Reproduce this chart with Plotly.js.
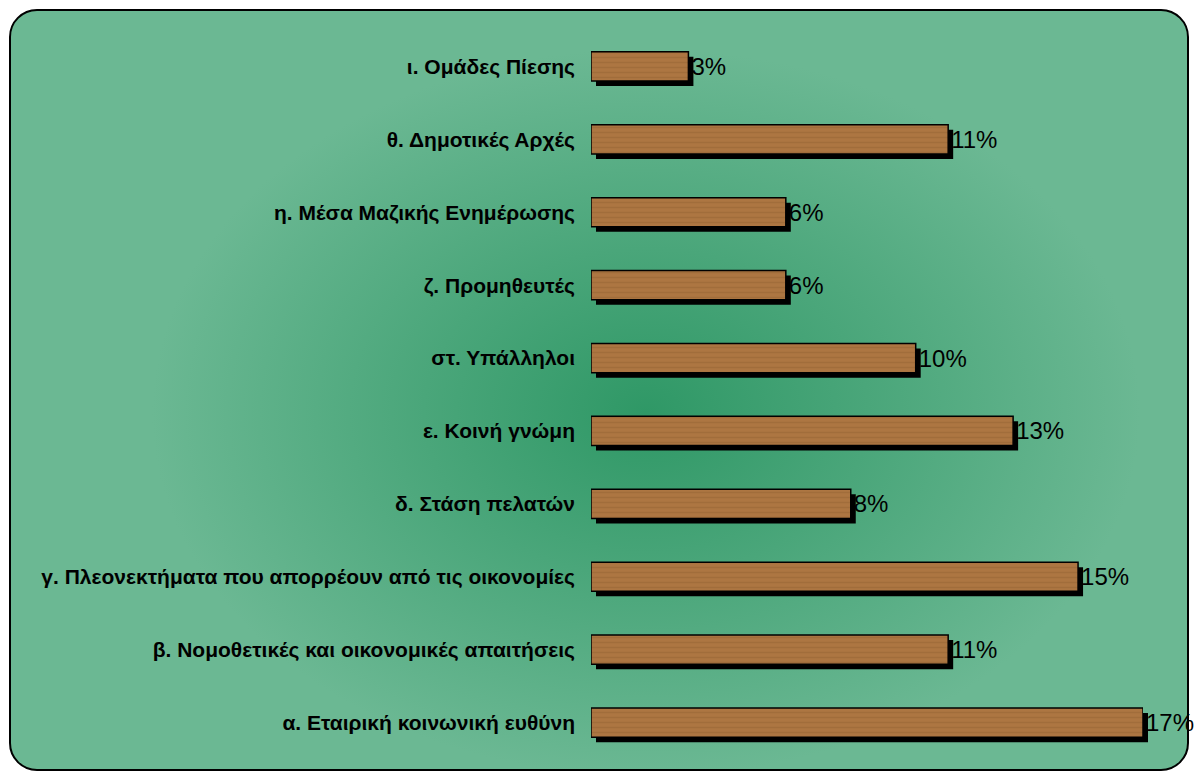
<!DOCTYPE html>
<html>
<head>
<meta charset="utf-8">
<script src="https://cdn.plot.ly/plotly-3.0.1.min.js"></script>
<style>
  html, body { margin: 0; padding: 0; background: #ffffff; }
  #frame {
    position: absolute; left: 9px; top: 9px; width: 1176px; height: 758px;
    border: 2px solid #000; border-radius: 28px;
    background: radial-gradient(ellipse 42% 48% at 54% 53%, #2f9866 0%, #4aa67a 45%, #6bb893 100%);
  }
  #chart { position: absolute; left: 0; top: 0; width: 1197px; height: 778px; }
</style>
</head>
<body>
<div id="frame"></div>
<div id="chart"></div>
<script>
const categories = [
  "ι. Ομάδες Πίεσης",
  "θ. Δημοτικές Αρχές",
  "η. Μέσα Μαζικής Ενημέρωσης",
  "ζ. Προμηθευτές",
  "στ. Υπάλληλοι",
  "ε. Κοινή γνώμη",
  "δ. Στάση πελατών",
  "γ. Πλεονεκτήματα που απορρέουν από τις οικονομίες",
  "β. Νομοθετικές και οικονομικές απαιτήσεις",
  "α. Εταιρική κοινωνική ευθύνη"
];
const values = [3, 11, 6, 6, 10, 13, 8, 15, 11, 17];
const valueLabels = values.map(v => v + "%");

const FONT = '"Liberation Sans", Arial, sans-serif';
const W = 1197, H = 778;
const ml = 591, mr = 49, mt = 30, mb = 14;
const pw = W - ml - mr, ph = H - mt - mb;
const off = 5;

const shadow = {
  type: 'bar', orientation: 'h', x: values, y: categories,
  xaxis: 'x', yaxis: 'y', width: 0.4,
  marker: { color: '#000000', line: { width: 0 } },
  hoverinfo: 'skip', showlegend: false
};
const main = {
  type: 'bar', orientation: 'h', x: values, y: categories,
  xaxis: 'x2', yaxis: 'y2', width: 0.4,
  text: valueLabels, textposition: 'outside', cliponaxis: false,
  constraintext: 'none',
  textfont: { family: FONT, size: 24, color: '#000000' },
  marker: {
    color: '#aa733f',
    line: { color: '#000000', width: 1.5 },
    pattern: { shape: '-', bgcolor: '#ad7642', fgcolor: '#8a5a2c', fgopacity: 0.35, size: 5, solidity: 0.3 }
  },
  showlegend: false
};

const hiddenX = { showgrid: false, zeroline: false, showline: false, showticklabels: false, ticks: '', range: [0, 17], fixedrange: true };
const layout = {
  width: W, height: H,
  margin: { l: ml, r: mr, t: mt, b: mb, pad: 0 },
  paper_bgcolor: 'rgba(0,0,0,0)', plot_bgcolor: 'rgba(0,0,0,0)',
  bargap: 0.6,
  xaxis: Object.assign({}, hiddenX, { domain: [off / pw, 1], anchor: 'y' }),
  yaxis: { domain: [0, 1 - off / ph], anchor: 'x', type: 'category', autorange: 'reversed',
           showgrid: false, zeroline: false, showline: false, showticklabels: false, ticks: '' },
  xaxis2: Object.assign({}, hiddenX, { domain: [0, 1 - off / pw], anchor: 'y2' }),
  yaxis2: { domain: [off / ph, 1], anchor: 'x2', type: 'category', autorange: 'reversed',
            showgrid: false, zeroline: false, showline: false, ticks: '',
            ticklabelstandoff: 15,
            tickfont: { family: FONT, size: 21, color: '#000000', weight: 'bold' } },
  font: { family: FONT }
};

Plotly.newPlot('chart', [shadow, main], layout, { displayModeBar: false, staticPlot: true });
</script>
</body>
</html>
